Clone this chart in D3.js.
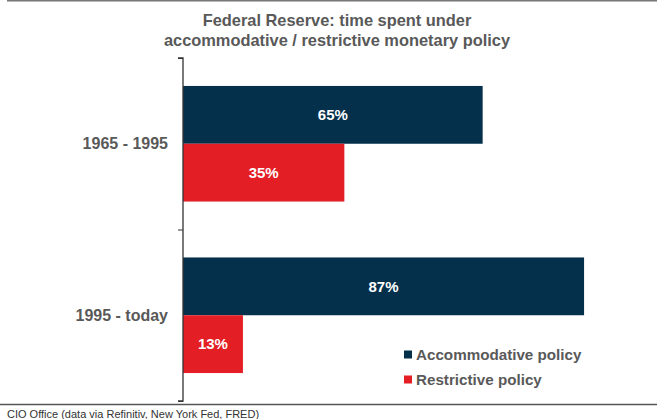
<!DOCTYPE html>
<html>
<head>
<meta charset="utf-8">
<script src="https://cdn.jsdelivr.net/npm/d3@7"></script>
<style>
  body { margin: 0; background: #fff; }
  svg { display: block; font-family: "Liberation Sans", Arial, sans-serif; }
</style>
</head>
<body>
<div id="my_chart"></div>
<script>
// data
var periods = ["1965 - 1995", "1995 - today"];
var accommodative = [65, 87];
var restrictive = [35, 13];
var seriesNames = ["Accommodative policy", "Restrictive policy"];
var seriesColors = ["#05304b", "#e31e25"];

var W = 657, H = 419;
var margin = {top: 58, left: 183, bottom: 18};
var plotH = 401 - margin.top;

var svg = d3.select("#my_chart")
  .append("svg")
    .attr("width", W)
    .attr("height", H);

// frame lines top/bottom
svg.append("line").attr("x1", 7).attr("x2", W).attr("y1", 0.5).attr("y2", 0.5)
  .attr("stroke", "#777").attr("stroke-width", 2);
svg.append("line").attr("x1", 0).attr("x2", W).attr("y1", 404.5).attr("y2", 404.5)
  .attr("stroke", "#555").attr("stroke-width", 1.5);

// title
var title = svg.append("text")
  .attr("x", 337)
  .attr("text-anchor", "middle")
  .attr("fill", "#595959")
  .style("font-weight", "bold")
  .style("font-size", "16.4px");
title.append("tspan").attr("x", 337).attr("y", 26).text("Federal Reserve: time spent under");
title.append("tspan").attr("x", 337).attr("y", 46).text("accommodative / restrictive monetary policy");

// table for the bars
var rows = periods.map(function(p, i) {
  return {period: p, values: [accommodative[i], restrictive[i]]};
});

var y = d3.scaleBand()
  .domain(periods)
  .range([margin.top, margin.top + plotH])
  .paddingInner(0.326)
  .paddingOuter(0.163);

var y1 = d3.scaleBand()
  .domain([0, 1])
  .range([0, y.bandwidth()]);

var x = d3.scaleLinear()
  .domain([0, 100])
  .range([margin.left, margin.left + 461]);

var g = svg.selectAll("g.grp")
  .data(rows)
  .enter()
  .append("g")
    .attr("class", "grp")
    .attr("transform", function(d) { return "translate(0," + y(d.period) + ")"; });

g.selectAll("rect")
  .data(function(d) { return d.values; })
  .enter()
  .append("rect")
    .attr("x", x(0))
    .attr("y", function(d, i) { return y1(i); })
    .attr("width", function(d) { return x(d) - x(0); })
    .attr("height", y1.bandwidth())
    .attr("fill", function(d, i) { return seriesColors[i]; });

g.selectAll("text.lbl")
  .data(function(d) { return d.values; })
  .enter()
  .append("text")
    .attr("class", "lbl")
    .attr("x", function(d) { return (x(0) + x(d)) / 2; })
    .attr("y", function(d, i) { return y1(i) + y1.bandwidth() / 2; })
    .attr("dy", "0.35em")
    .attr("text-anchor", "middle")
    .attr("fill", "#fff")
    .style("font-weight", "bold")
    .style("font-size", "15px")
    .text(function(d) { return d + "%"; });

// Y axis with ticks at the band edges
var axisY = d3.scalePoint()
  .domain([0, 1, 2])
  .range([margin.top, margin.top + plotH]);

var ax = svg.append("g")
  .attr("transform", "translate(" + margin.left + ",0)")
  .call(d3.axisLeft(axisY).tickSize(5).tickFormat(""));
ax.select(".domain").attr("stroke", "#333").attr("stroke-width", 1.3)
  .attr("d", "M-5," + margin.top + "H0V" + (margin.top + plotH) + "H-5");
ax.selectAll(".tick line").attr("stroke", "#333");

svg.selectAll("text.cat")
  .data(periods)
  .enter()
  .append("text")
    .attr("class", "cat")
    .attr("x", 168)
    .attr("y", function(d) { return y(d) + y.bandwidth() / 2; })
    .attr("dy", "0.35em")
    .attr("text-anchor", "end")
    .attr("fill", "#595959")
    .style("font-weight", "bold")
    .style("font-size", "16px")
    .text(function(d) { return d; });

// legend
var leg = svg.selectAll("g.leg")
  .data(seriesNames)
  .enter()
  .append("g")
    .attr("class", "leg")
    .attr("transform", function(d, i) { return "translate(404," + (355 + i * 25) + ")"; });
leg.append("rect")
  .attr("x", 0).attr("y", -4.5)
  .attr("width", 8).attr("height", 8)
  .attr("fill", function(d, i) { return seriesColors[i]; });
leg.append("text")
  .attr("x", 12)
  .attr("dy", "0.35em")
  .attr("fill", "#595959")
  .style("font-weight", "bold")
  .style("font-size", "15.2px")
  .text(function(d) { return d; });

// source
svg.append("text")
  .attr("x", 7)
  .attr("y", 418)
  .attr("fill", "#333")
  .style("font-size", "11px")
  .text("CIO Office (data via Refinitiv, New York Fed, FRED)");
</script>
</body>
</html>
